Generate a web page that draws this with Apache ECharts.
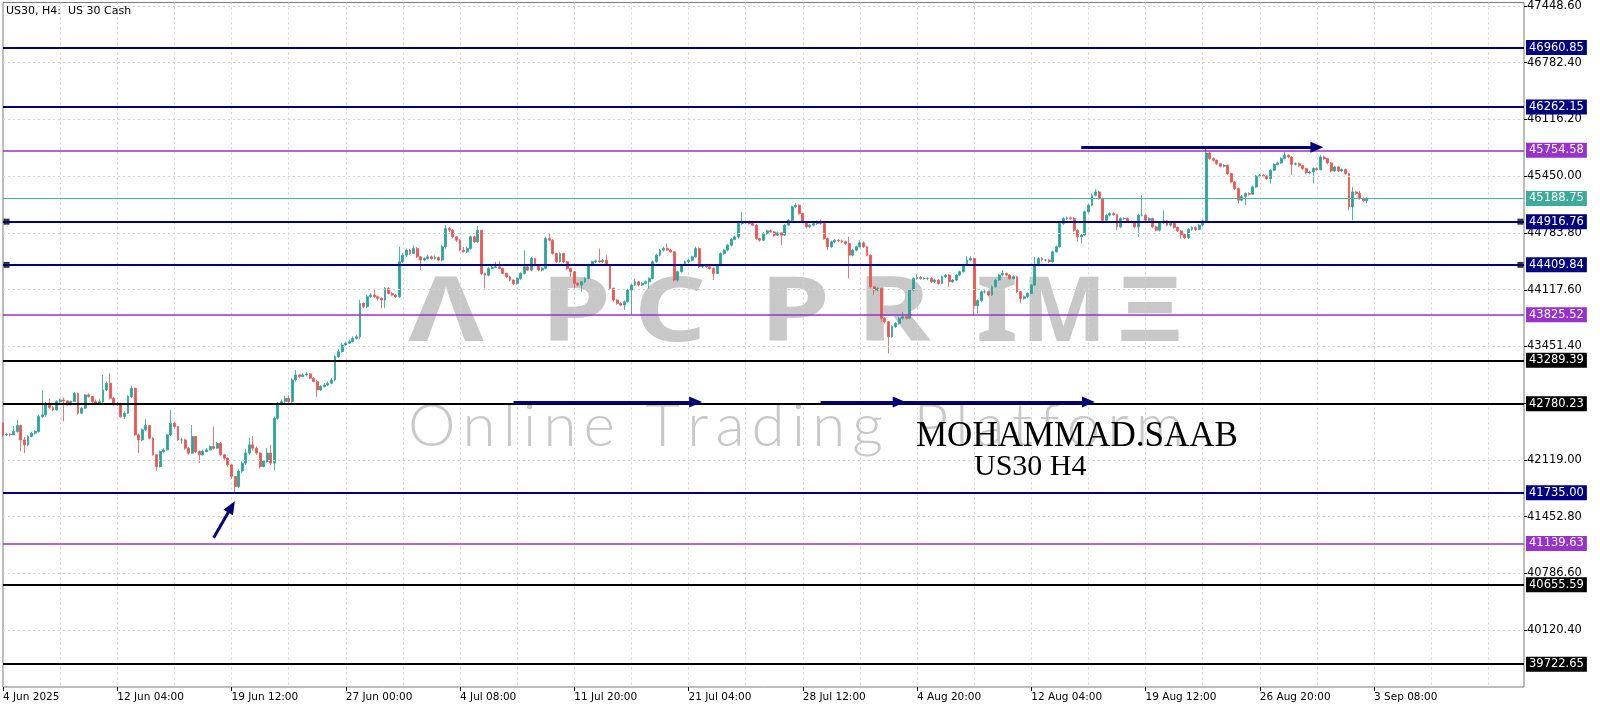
<!DOCTYPE html>
<html><head><meta charset="utf-8">
<script src="https://cdn.jsdelivr.net/npm/echarts@6/dist/echarts.min.js"></script>
<style>html,body{margin:0;padding:0;background:#fff}#c{width:1600px;height:711px}</style>
</head><body><div id="c"></div>
<script>
// ---------- data ----------
const firstOpen = 42550;
const closes = [
42414,42422,42414,42453,42524,42355,42297,42395,42434,42453,
42629,42649,42785,42735,42707,42805,42824,42813,42766,42805,
42903,42668,42727,42883,42864,42805,42785,42805,42942,43020,
42844,42766,42785,42629,42668,42864,42961,42414,42355,42473,
42524,42375,42180,42043,42219,42238,42414,42551,42512,42355,
42355,42258,42199,42395,42219,42180,42219,42238,42277,42258,
42316,42180,42141,42062,41926,41808,
41990,42082,42200,42297,42258,42200,42043,42102,42200,42082,
42609,42785,42805,42844,42805,43059,43118,43098,43118,43130,
43079,43040,42942,42981,43000,43020,43059,43333,43391,43469,
43489,43508,43547,43567,43958,43919,44036,44055,44036,44016,
43997,44133,44075,44055,44036,44446,44524,44583,44544,44602,
44505,44466,44485,44505,44485,44495,44466,44622,44837,44817,
44739,44700,44583,44563,
44602,44739,44680,44817,44309,44289,44368,44379,44387,44368,
44309,44270,44231,44192,44250,44309,44387,44348,44485,44407,
44348,44368,44719,44700,44543,44446,44543,44446,44368,44329,
44192,44172,44211,44250,44407,44446,44457,44446,44465,44407,
44133,43996,43957,43938,43977,44114,44172,44211,44172,44192,
44211,44250,44446,44524,44583,44602,44583,44563,44231,44329,
44407,44446,44465,44504,
44602,44387,44407,44387,44368,44309,44407,44543,44583,44641,
44708,44739,44895,44915,44903,44895,44876,44719,44700,44778,
44809,44797,44758,44786,44758,44876,44934,45091,45110,45012,
44915,44856,44876,44895,44915,44895,44719,44622,44680,44700,
44692,44680,44661,44524,44583,44622,44669,44622,44524,44153,
44114,44133,43782,43742,43567,43684,43723,43782,43801,43782,
44114,44250,44262,44250,44250,
44250,44211,44231,44192,44270,44290,44211,44231,44290,44329,
44407,44466,44485,43930,43990,44094,44094,44055,44153,44231,
44290,44309,44290,44250,44270,44094,44016,44036,44075,44172,
44407,44485,44466,44466,44446,44563,44622,44895,44954,44962,
44954,44817,44739,44759,45032,45110,45227,45266,45188,44934,
44993,45012,45000,44856,44954,44954,44915,44915,44856,44993,
44993,44934,44954,44856,
44817,44903,44926,44876,44895,44848,44809,44766,44727,44825,
44848,44825,44876,44926,45723,45657,45637,45598,45567,45579,
45481,45383,45305,45169,45215,45247,45239,45325,45450,45462,
45450,45422,45520,45587,45606,45657,45696,45676,45591,45598,
45575,45540,45489,45501,45540,45528,45676,45657,45606,45512,
45559,45512,45528,45481,45090,45266,45247,45188,45161,45188.75
];
const upWick = [
10,18,13,67,66,11,35,15,16,17,
21,291,15,55,15,15,16,26,7,15,
17,7,13,7,17,6,25,25,176,20,
117,16,15,5,22,16,29,9,16,17,
76,6,15,10,11,22,16,156,19,8,
25,15,12,135,5,11,21,22,13,235,
14,14,10,9,8,4,
20,18,50,83,103,22,10,18,60,100,
21,15,25,26,36,21,58,12,22,20,
10,11,20,19,20,20,21,17,29,21,
21,22,23,23,42,12,24,25,75,14,
14,17,17,15,15,176,26,17,17,38,
18,5,15,25,15,25,15,18,39,13,
13,10,10,37,
25,15,15,47,0,10,15,20,59,67,
10,10,10,10,15,15,195,15,15,10,
10,15,20,67,10,10,15,10,10,10,
10,15,10,15,15,15,15,145,15,59,
10,10,10,15,15,15,15,39,10,15,
15,15,15,15,15,20,59,15,10,15,
15,15,15,15,
20,12,15,15,10,10,15,15,15,15,
15,15,15,117,15,15,15,10,10,15,
15,15,10,15,10,15,15,15,27,10,
10,10,15,15,15,27,10,10,15,15,
15,15,15,78,15,15,31,15,10,10,
10,15,10,15,10,15,15,15,59,10,
15,15,35,15,15,
15,15,15,10,15,15,10,15,15,15,
15,46,27,10,15,15,20,15,15,15,
15,41,10,10,15,10,10,15,15,15,
98,15,15,15,15,15,15,20,15,15,
15,15,10,15,15,15,20,32,10,10,
15,15,15,10,15,15,15,15,10,15,
234,10,15,10,
15,15,125,10,15,10,10,10,10,15,
15,15,15,15,71,15,15,10,10,15,
10,10,10,10,15,15,15,15,15,15,
15,10,15,15,15,15,39,10,10,15,
15,10,10,15,15,15,20,15,10,10,
15,10,15,10,10,59,15,32,15,15
];
const downWick = [
19,14,19,4,13,135,97,17,10,14,
13,19,19,15,17,7,15,243,16,6,
5,18,8,7,14,15,15,5,15,12,
14,16,16,19,29,8,14,14,155,15,
13,15,10,51,13,19,8,14,22,15,
45,18,19,9,19,98,10,9,8,18,
8,10,21,22,26,63,
18,20,22,20,28,20,23,13,12,22,
82,19,25,15,15,15,19,18,8,18,
9,10,82,12,11,10,10,19,13,11,
9,9,8,17,27,19,19,16,16,26,
97,97,15,15,16,16,16,24,14,4,
15,116,16,15,15,15,16,16,22,27,
19,20,13,10,
15,15,15,15,20,156,15,10,10,10,
10,15,15,20,15,15,10,10,15,15,
15,15,10,15,15,15,10,15,15,60,
58,15,78,15,10,15,15,15,15,10,
15,20,15,15,59,10,294,10,15,10,
10,78,10,15,15,15,10,10,15,20,
10,10,15,15,
10,15,15,10,15,78,10,15,15,15,
15,10,20,15,10,10,10,15,20,10,
15,10,15,10,117,10,10,10,15,15,
15,20,15,15,15,15,15,40,15,15,
15,15,15,274,15,15,10,15,15,20,
59,15,40,20,196,15,15,15,15,15,
10,15,15,15,15,
20,15,15,15,10,15,59,15,10,10,
10,10,15,120,90,15,20,15,10,10,
10,15,15,15,15,15,59,15,15,10,
10,15,15,15,15,10,10,10,15,15,
15,15,59,79,10,15,10,15,15,39,
15,15,15,39,15,15,15,15,15,117,
15,15,15,15,
15,15,15,15,15,15,15,47,15,15,
15,15,10,15,15,15,15,15,15,15,
15,15,15,40,15,105,15,10,10,15,
15,15,60,10,10,10,10,15,129,15,
15,15,15,15,137,15,10,15,15,15,
15,15,15,15,39,156,15,15,15,30
];
const xLabels = ['4 Jun 2025','12 Jun 04:00','19 Jun 12:00','27 Jun 00:00','4 Jul 08:00','11 Jul 20:00','21 Jul 04:00','28 Jul 12:00','4 Aug 20:00','12 Aug 04:00','19 Aug 12:00','26 Aug 20:00','3 Sep 08:00'];
const yTicks = [47448.6,46782.4,46116.2,45450,44783.8,44117.6,43451.4,42785.2,42119,41452.8,40786.6,40120.4];
const levelValues = [46960.85,46262.15,45754.58,45188.75,44916.76,44409.84,43825.52,43289.39,42780.23,41735.00,41139.63,40655.59,39722.65];
const levelKinds  = ['navy','navy','purple','teal','navy','navy','purple','black','black','navy','purple','black','black'];
const anchoredLevels = [44916.76,44409.84];
// arrows: [fromBar, fromPrice, toBar, toPrice]
const arrowsData = [[59,41206,64,41569],[143,42800,194,42800],[229,42800,251,42800],[252,42800,304,42800],[302,45790,368,45790]];

// ---------- build ----------
const N = closes.length;
const NCAT = 427;
const LABEL_STEP = 32, GRID_STEP = 16, LAST_LABEL = 384;
const cats = Array.from({length:NCAT},(_,i)=>String(i));
const candles = closes.map((c,i)=>{const o=i===0?firstOpen:closes[i-1];return [o,c,Math.min(o,c)-downWick[i],Math.max(o,c)+upWick[i]];});
const kindStyle = {
  navy:{color:'#000080',width:2,box:'#000080'},
  purple:{color:'#9932cc',width:1.5,box:'#9932cc'},
  teal:{color:'#45b3a5',width:1,box:'#3bab9c'},
  black:{color:'#000000',width:2,box:'#000000'}
};
const FONT='DejaVu Sans';
const levelLines = levelValues.map((v,i)=>{const s=kindStyle[levelKinds[i]];return {
  yAxis:v,lineStyle:{color:s.color,width:s.width,type:'solid'},
  label:{show:true,position:'end',distance:2,formatter:()=>v.toFixed(2),color:'#fff',backgroundColor:s.box,padding:[2,3,1,3],fontFamily:FONT,fontSize:11.5}
};});
const gridLines = yTicks.map(v=>({yAxis:v}));
const arrowLines = arrowsData.map(a=>[{coord:[a[0],a[1]]},{coord:[a[2],a[3]]}]);

// tracked watermark text (layout only)
function trackedText(text, font, x0, totalW, y, fill){
  const ctx=document.createElement('canvas').getContext('2d'); ctx.font=font;
  const chars=[...text]; const ws=chars.map(ch=>ctx.measureText(ch).width);
  const sum=ws.reduce((a,b)=>a+b,0); const t=(totalW-sum)/(chars.length-1);
  let x=x0; return chars.map((ch,i)=>{const el={type:'text',z:0,silent:true,style:{text:ch,x:x,y:y,align:'left',verticalAlign:'middle',fill:fill,font:font}}; x+=ws[i]+t; return el;});
}

const chart = echarts.init(document.getElementById('c'),null,{renderer:'canvas'});
const wm = '#c8c8c8';
const letters = [['Λ',446,1.25],['P',576,1.25],['C',670,1.25],['P',795,1.25],['R',894,1.25],['I',997,1.2],['M',1064,1.0],['Ξ',1150,1.25]];
chart.setOption({
  animation:false,
  backgroundColor:'#ffffff',
  grid:{left:2,right:76,top:2,bottom:24,show:true,borderColor:'#7a7a7a',borderWidth:1,backgroundColor:'transparent'},
  graphic:[
    ...letters.map(l=>({type:'text',z:0,silent:true,x:l[1],y:315,scaleX:l[2],style:{text:l[0],x:0,y:0,align:'center',verticalAlign:'middle',fill:wm,font:'bold 90px "Noto Sans"'}})),
    ...trackedText('Online Trading Platform','300 60px Lato',408,776,427,wm),
    {type:'text',z:50,silent:true,style:{text:'MOHAMMAD.SAAB',x:916,y:437,align:'left',verticalAlign:'middle',fill:'#000',font:'35px "Liberation Serif"'}},
    {type:'text',z:50,silent:true,style:{text:'US30 H4',x:974,y:467,align:'left',verticalAlign:'middle',fill:'#000',font:'30px "Liberation Serif"'}},
    {type:'text',z:50,silent:true,style:{text:'US30, H4:  US 30 Cash',x:6,y:11,align:'left',verticalAlign:'middle',fill:'#000',font:'11px "DejaVu Sans"'}}
  ],
  xAxis:{
    type:'category',data:cats,boundaryGap:false,
    axisLine:{show:false},
    axisTick:{show:true,length:4,interval:(i)=>i%LABEL_STEP===0&&i<=LAST_LABEL,lineStyle:{color:'#000'}},
    axisLabel:{show:true,interval:(i)=>i%LABEL_STEP===0&&i<=LAST_LABEL,align:'left',margin:5,color:'#000',fontFamily:FONT,fontSize:10.5,
      formatter:(v)=>{const k=Number(v)/LABEL_STEP;return xLabels[k]||'';}},
    splitLine:{show:true,interval:(i)=>i>0&&i%GRID_STEP===0,lineStyle:{color:'#d4d4d4',type:[2,3],width:1}}
  },
  yAxis:{
    type:'value',position:'right',min:39454.2,max:47490,scale:true,
    axisLine:{show:false},
    axisTick:{show:true,length:3,customValues:yTicks,lineStyle:{color:'#000'}},
    axisLabel:{show:true,customValues:yTicks,margin:3,color:'#000',fontFamily:FONT,fontSize:11.5,formatter:(v)=>Number(v).toFixed(2)},
    splitLine:{show:false}
  },
  series:[
    {type:'line',data:[],z:1,silent:true,
      markLine:{silent:true,symbol:['none','none'],animation:false,label:{show:false},lineStyle:{color:'#d4d4d4',type:[2,3],width:1},data:gridLines}},
    {type:'line',data:[],z:2,silent:true,
      markLine:{silent:true,symbol:['none','none'],animation:false,data:levelLines}},
    {type:'candlestick',data:candles,z:3,barWidth:2.4,
      itemStyle:{color:'#26a69a',color0:'#ef5350',borderColor:'#26a69a',borderColor0:'#ef5350',borderWidth:0.8}},
    {type:'scatter',z:4,silent:true,symbol:'rect',symbolSize:6,itemStyle:{color:'#000'},
      data:anchoredLevels.flatMap(v=>[[1,v],[NCAT-2,v]])},
    {type:'line',data:[],z:5,silent:true,
      markLine:{silent:true,symbol:['none','triangle'],symbolSize:[11,13],animation:false,label:{show:false},
        lineStyle:{color:'#00007a',width:3,type:'solid'},data:arrowLines}}
  ]
});
</script></body></html>
